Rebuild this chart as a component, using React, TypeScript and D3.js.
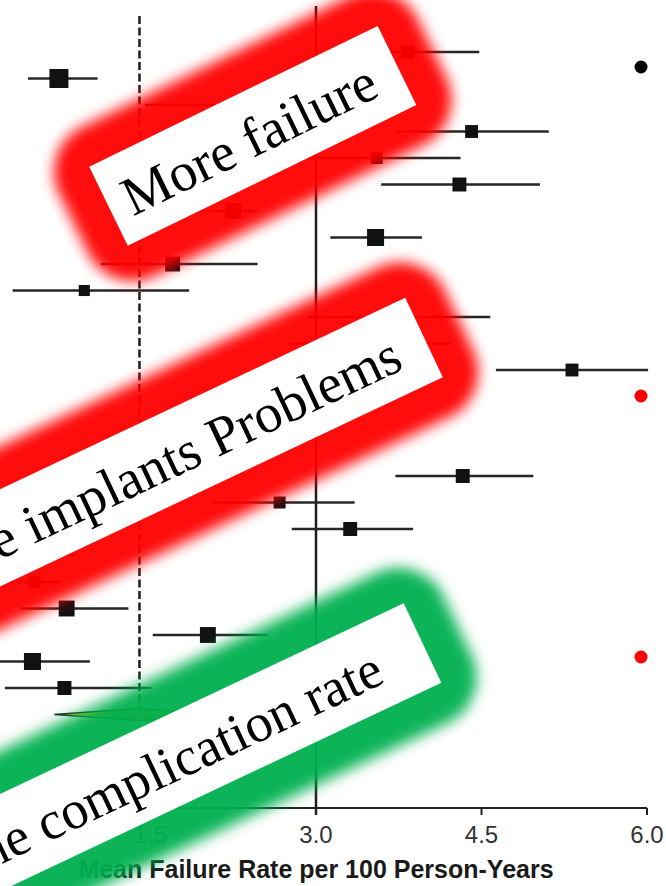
import React from "react";
import * as d3 from "d3";

// ---- data ----
const studies = [
  "S01", "S02", "S03", "S04", "S05", "S06", "S07", "S08", "S09", "S10",
  "S11", "S12", "S13", "S14", "S15", "S16", "S17", "S18", "S19", "S20",
  "S21", "S22", "S23", "S24", "S25",
];
const estimates = [
  3.83, 0.67, 2.27, 4.41, 3.55, 4.30, 2.25, 3.54, 1.70, 0.90,
  3.72, 3.40, 5.32, 2.86, 2.40, 1.95, 4.33, 2.67, 3.31, 0.50,
  0.45, 0.74, 2.02, 0.43, 0.72,
];
const lowerCI = [
  3.17, 0.39, 1.45, 3.72, 2.90, 3.59, 1.86, 3.13, 1.05, 0.25,
  2.92, 2.76, 4.63, 2.22, 1.77, 1.31, 3.72, 2.06, 2.78, 0.23,
  0.14, 0.32, 1.52, 0.10, 0.18,
];
const upperCI = [
  4.48, 1.02, 3.13, 5.11, 4.31, 5.03, 2.47, 3.96, 2.47, 1.85,
  4.58, 4.22, 6.01, 3.58, 3.13, 2.67, 4.97, 3.35, 3.88, 0.82,
  0.68, 1.30, 2.57, 0.95, 1.51,
];
const weights = [
  2.7, 5.0, 2.3, 2.3, 2.0, 2.7, 3.5, 4.0, 3.1, 1.7,
  2.7, 2.3, 2.3, 2.3, 2.3, 2.3, 2.7, 2.0, 2.7, 2.3,
  2.0, 3.5, 3.5, 4.0, 2.7,
];
const pooledLabel = "Pooled";
const pooled = { est: 1.40, lo: 0.63, hi: 2.16 };
const axisTicks = [1.5, 3.0, 4.5, 6.0];
const nullValue = 3.0;
const axisTitle = "Mean Failure Rate per 100 Person-Years";
const calloutTexts = ["More failure", "More implants Problems", "the complication rate"];
const bulletColors = ["#000000", "#ff0000", "#ff0000"];

// ---- layout ----
const W = 666;
const H = 886;
const rowIds = [...studies, pooledLabel];

const x = d3.scaleLinear().domain([0, 6]).range([-15, 647]);
const y = d3.scalePoint<string>().domain(rowIds).range([52, 714.5]);
const size = d3.scaleSqrt().domain([0, 5]).range([0, 19]);
const axisY = 808;

const callouts = [
  { text: calloutTexts[0], ox: 397, oy: 65.5, angle: -26, w: 321, color: "#ff0000", endPad: 27, fs: 55 },
  { text: calloutTexts[1], ox: 424, oy: 337.5, angle: -25.3, w: 620, color: "#ff0000", endPad: 30, fs: 55 },
  { text: calloutTexts[2], ox: 422.5, oy: 643, angle: -25.3, w: 620, color: "#00b050", endPad: 49, fs: 54 },
];
const bulletYs = [67, 396, 657];

export default function App() {
  const boxH = 88;
  const pad = 39;
  const diamondPath = (() => {
    const yy = y(pooledLabel)!;
    const p = d3.path();
    p.moveTo(x(pooled.lo), yy);
    p.lineTo(x(pooled.est), yy - 6);
    p.lineTo(x(pooled.hi), yy);
    p.lineTo(x(pooled.est), yy + 6);
    p.closePath();
    return p.toString();
  })();

  return (
    <svg
      width={W}
      height={H}
      viewBox={`0 0 ${W} ${H}`}
      style={{ position: "absolute", left: 0, top: 0, background: "#ffffff" }}
    >
      <defs>
        <filter id="glow" x="-30%" y="-60%" width="160%" height="220%">
          <feGaussianBlur stdDeviation="7" />
        </filter>
      </defs>
      <rect x={0} y={0} width={W} height={H} fill="#ffffff" />

      {/* reference lines */}
      <line x1={x(nullValue)} x2={x(nullValue)} y1={6} y2={axisY + 7} stroke="#1e1e1e" strokeWidth={2.5} />
      <line
        x1={x(pooled.est)}
        x2={x(pooled.est)}
        y1={16}
        y2={720}
        stroke="#1e1e1e"
        strokeWidth={2.5}
        strokeDasharray="8,3.5"
      />

      {/* study rows */}
      {studies.map((s, i) => {
        const yy = y(s)!;
        const sz = size(weights[i]);
        return (
          <g key={s}>
            <line x1={x(lowerCI[i])} x2={x(upperCI[i])} y1={yy} y2={yy} stroke="#262626" strokeWidth={2.5} />
            <rect x={x(estimates[i]) - sz / 2} y={yy - sz / 2} width={sz} height={sz} fill="#111" />
          </g>
        );
      })}

      {/* pooled diamond */}
      <path d={diamondPath} fill="#e6c21a" stroke="#222" strokeWidth={1.5} />

      {/* x axis */}
      <line x1={x(0)} x2={x(6)} y1={axisY} y2={axisY} stroke="#222" strokeWidth={2} />
      {axisTicks.map((t) => (
        <g key={t}>
          <line x1={x(t)} x2={x(t)} y1={axisY} y2={axisY + 7} stroke="#222" strokeWidth={2} />
          <text
            x={x(t)}
            y={843}
            textAnchor="middle"
            fontFamily="Liberation Sans, Arial, sans-serif"
            fontSize={24}
            fill="#333"
          >
            {d3.format(".1f")(t)}
          </text>
        </g>
      ))}
      <text
        x={x(nullValue)}
        y={878}
        textAnchor="middle"
        fontFamily="Liberation Sans, Arial, sans-serif"
        fontWeight="bold"
        fontSize={25}
        fill="#1a1a1a"
      >
        {axisTitle}
      </text>

      {/* bullets */}
      {bulletYs.map((by, i) => (
        <circle key={i} cx={641} cy={by} r={6.5} fill={bulletColors[i]} />
      ))}

      {/* callout boxes */}
      {callouts.map((c, i) => (
        <g key={i} transform={`translate(${c.ox},${c.oy}) rotate(${c.angle})`}>
          <rect
            x={-c.w - pad}
            y={-boxH / 2 - pad}
            width={c.w + 2 * pad}
            height={boxH + 2 * pad}
            rx={50}
            ry={50}
            fill={c.color}
            opacity={0.95}
            filter="url(#glow)"
          />
          <rect x={-c.w} y={-boxH / 2} width={c.w} height={boxH} fill="#ffffff" />
          <text
            x={-c.endPad}
            y={20}
            textAnchor="end"
            fontFamily="Liberation Serif, Times New Roman, serif"
            fontSize={c.fs}
            fill="#000"
          >
            {c.text}
          </text>
        </g>
      ))}
    </svg>
  );
}
